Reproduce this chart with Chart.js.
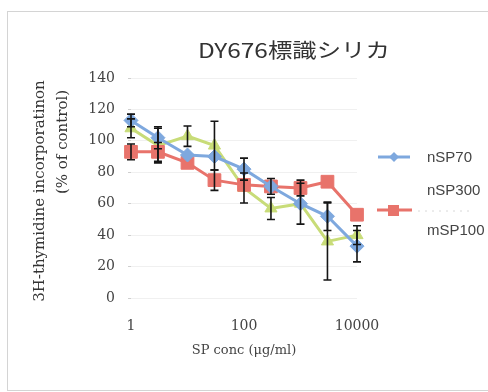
<!DOCTYPE html>
<html>
<head>
<meta charset="utf-8">
<script src="https://cdn.jsdelivr.net/npm/chart.js@4"></script>
<style>
  html, body { margin: 0; padding: 0; background: #fff; }
  canvas { display: block; }
</style>
</head>
<body>
<canvas id="myChart" width="488" height="392"></canvas>
<script>
const concentrations = [1, 3, 10, 30, 100, 300, 1000, 3000, 10000];
const xTicks = [1, 100, 10000];
const nSP70 = [113, 102, 91, 90, 82, 71, 60, 52, 33];
const nSP70Err = [4, 7, 0, 0, 7, 5, 13, 9, 10];
const nSP300 = [93, 93, 86, 75, 72, 71, 70, 74, 53];
const nSP300Err = [5, 6, 0, 6.5, 0, 0, 5, 0, 0];
const mSP100 = [108, 97, 103, 97, 70, 57, 60, 36, 40];
const mSP100Err = [6, 11, 6.5, 15.5, 9.5, 7, 0, 24.5, 6];

const BLUE = '#7ea8de';
const RED = '#e8736b';
const GREEN = '#c8dc78';
const SERIF = '"DejaVu Serif", "Liberation Serif", serif';

// error bars, frame, title, y title and legend drawn by hand
const extras = {
  id: 'extras',
  afterDatasetsDraw(chart) {
    const {ctx, scales: {x, y}} = chart;
    ctx.save();
    ctx.strokeStyle = '#151515';
    ctx.lineWidth = 1.6;
    chart.data.datasets.forEach((ds) => {
      ds.data.forEach((v, i) => {
        const e = ds.errors[i];
        if (!e) return;
        const px = x.getPixelForValue(concentrations[i]);
        const top = y.getPixelForValue(v + e);
        const bot = y.getPixelForValue(v - e);
        ctx.beginPath();
        ctx.moveTo(px, top); ctx.lineTo(px, bot);
        ctx.moveTo(px - 4, top); ctx.lineTo(px + 4, top);
        ctx.moveTo(px - 4, bot); ctx.lineTo(px + 4, bot);
        ctx.stroke();
      });
    });
    ctx.restore();
  },
  afterDraw(chart) {
    const ctx = chart.ctx;
    ctx.save();
    // frame
    ctx.strokeStyle = '#d4d4d4';
    ctx.lineWidth = 1;
    ctx.strokeRect(7.5, 11.5, 500, 379);

    // title
    ctx.fillStyle = '#333';
    ctx.textAlign = 'center';
    ctx.textBaseline = 'middle';
    ctx.save();
    ctx.translate(294, 50);
    ctx.scale(1.22, 1);
    ctx.font = '20px "Noto Sans CJK JP", "Noto Sans", sans-serif';
    ctx.fillText('DY676標識シリカ', 0, 0);
    ctx.restore();

    // y axis title
    ctx.font = '15px ' + SERIF;
    ctx.fillStyle = '#333';
    ctx.save();
    ctx.translate(40, 191);
    ctx.rotate(-Math.PI / 2);
    ctx.fillText('3H-thymidine incorporatinon', 0, 0);
    ctx.restore();
    ctx.save();
    ctx.translate(63, 142);
    ctx.rotate(-Math.PI / 2);
    ctx.fillText('(% of control)', 0, 0);
    ctx.restore();

    // legend
    const ds = chart.data.datasets;
    ctx.textAlign = 'left';
    ctx.font = '15px "Liberation Sans", Arial, sans-serif';
    ctx.lineWidth = 3;
    ctx.strokeStyle = ds[0].borderColor;
    ctx.beginPath(); ctx.moveTo(378, 157); ctx.lineTo(410, 157); ctx.stroke();
    ctx.fillStyle = ds[0].borderColor;
    ctx.beginPath();
    ctx.moveTo(394, 152); ctx.lineTo(399, 157); ctx.lineTo(394, 162); ctx.lineTo(389, 157);
    ctx.closePath(); ctx.fill();
    ctx.fillStyle = '#444';
    ctx.fillText(ds[0].label, 427, 158);

    ctx.fillText(ds[1].label, 427, 191);
    ctx.strokeStyle = ds[1].borderColor;
    ctx.beginPath(); ctx.moveTo(377, 210); ctx.lineTo(412, 210); ctx.stroke();
    ctx.fillStyle = ds[1].borderColor;
    ctx.fillRect(388, 205, 11, 11);
    ctx.strokeStyle = '#d8d8d8';
    ctx.lineWidth = 1;
    ctx.setLineDash([2, 5]);
    ctx.beginPath(); ctx.moveTo(418, 211); ctx.lineTo(470, 211); ctx.stroke();
    ctx.setLineDash([]);
    ctx.fillStyle = '#444';
    ctx.fillText(ds[2].label, 427, 231);
    ctx.restore();
  }
};

new Chart(document.getElementById('myChart'), {
  type: 'line',
  data: {
    labels: concentrations,
    datasets: [
      {
        label: 'nSP70',
        data: nSP70,
        errors: nSP70Err,
        borderColor: BLUE,
        backgroundColor: BLUE,
        borderWidth: 3,
        pointStyle: 'rectRot',
        pointRadius: 7,
        pointBorderWidth: 1,
        clip: false
      },
      {
        label: 'nSP300',
        data: nSP300,
        errors: nSP300Err,
        borderColor: RED,
        backgroundColor: RED,
        borderWidth: 3,
        pointStyle: 'rect',
        pointRadius: 9,
        pointBorderWidth: 1,
        clip: false
      },
      {
        label: 'mSP100',
        data: mSP100,
        errors: mSP100Err,
        borderColor: GREEN,
        backgroundColor: GREEN,
        borderWidth: 3,
        pointStyle: 'triangle',
        pointRadius: 7,
        pointBorderWidth: 1,
        clip: false
      }
    ]
  },
  options: {
    responsive: false,
    animation: false,
    layout: {
      padding: {left: 10, right: 131, top: 78, bottom: 24}
    },
    plugins: {
      legend: {display: false},
      title: {display: false},
      tooltip: {enabled: false}
    },
    scales: {
      x: {
        type: 'logarithmic',
        min: 1,
        max: 10000,
        afterBuildTicks: (scale) => {
          scale.ticks = xTicks.map((v) => ({value: v}));
        },
        afterFit: (scale) => { scale.height = 70; },
        grid: {display: false, drawTicks: false},
        border: {display: false},
        ticks: {
          padding: 20,
          maxRotation: 0,
          autoSkip: false,
          color: '#444',
          font: {family: SERIF, size: 14},
          callback: (v) => String(v)
        },
        title: {
          display: true,
          text: 'SP conc (μg/ml)',
          color: '#444',
          padding: {top: 4, bottom: 10},
          font: {family: SERIF, size: 13}
        }
      },
      y: {
        min: 0,
        max: 140,
        afterFit: (scale) => { scale.width = 121; },
        grid: {color: '#f0f0f0', tickLength: 3, tickColor: '#cfcfcf'},
        border: {display: false},
        ticks: {
          stepSize: 20,
          padding: 13,
          color: '#444',
          font: {family: SERIF, size: 14}
        }
      }
    }
  },
  plugins: [extras]
});
</script>
</body>
</html>
